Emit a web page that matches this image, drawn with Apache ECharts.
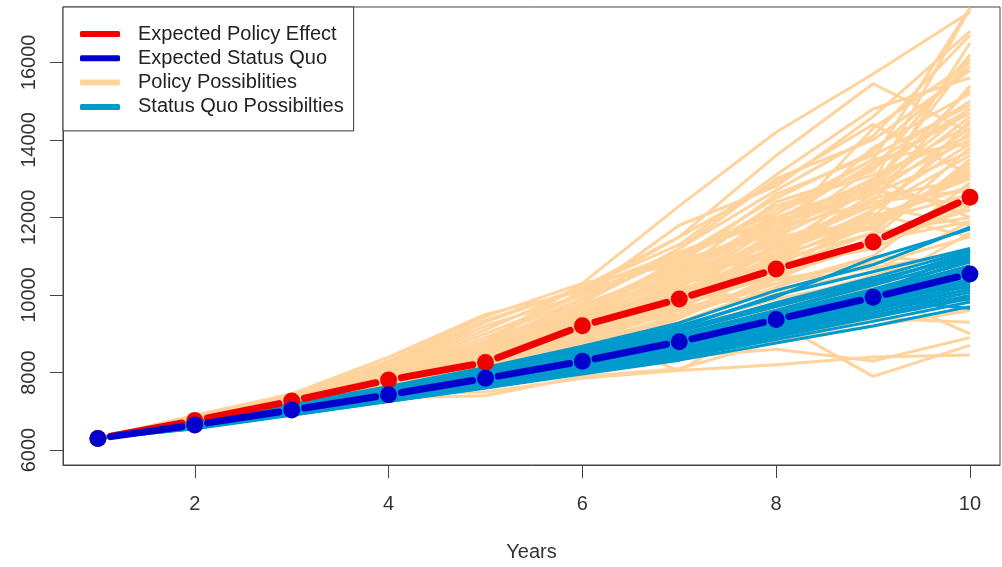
<!DOCTYPE html>
<html>
<head>
<meta charset="utf-8">
<script src="https://cdn.jsdelivr.net/npm/echarts@6/dist/echarts.min.js"></script>
<style>
html,body{margin:0;padding:0;background:#fff;}
#chart{width:1002px;height:567px;}
</style>
</head>
<body>
<div id="chart"></div>
<script>
// ---------------- data ----------------
const years = [1, 2, 3, 4, 5, 6, 7, 8, 9, 10];
const xTicks = [2, 4, 6, 8, 10];
const yTicks = [6000, 8000, 10000, 12000, 14000, 16000];

const expectedPolicy = [6300, 6760, 7265, 7810, 8260, 9210, 9900, 10670, 11370, 12520];
const expectedStatusQuo = [6300, 6650, 7035, 7430, 7850, 8290, 8795, 9370, 9940, 10545];

const policyPossibilities = [
  [6300,6850,7400,8300,9450,10300,12300,14200,15700,17300],
  [6300,6800,7350,8200,9300,10200,11500,13600,15450,14200],
  [6300,6750,7300,8100,9000,10000,11800,12800,14600,16800],
  [6300,6900,7450,8400,9500,10100,10900,12200,13500,17400],
  [6300,6700,7200,7900,8800,9800,11200,13000,14000,15800],
  [6300,6800,7350,8000,8600,9500,10600,12400,13200,16200],
  [6300,6650,7100,7700,8200,9300,10200,11800,12800,14800],
  [6300,6750,7250,7850,8500,9700,10800,11600,13800,15200],
  [6300,6700,7150,7600,8000,9000,9800,11000,12200,13600],
  [6300,6600,7050,7500,7900,8700,9400,10500,11300,12400],
  [6300,6850,7300,8000,8700,9900,11000,12000,12800,14000],
  [6300,6700,7200,7800,8300,9100,10100,10800,11800,13200],
  [6300,6750,7300,7900,8400,9600,10400,11200,12100,11500],
  [6300,6650,7100,7600,8100,8800,9600,10300,11000,12900],
  [6300,6800,7350,7950,8550,9400,10200,11400,11700,13400],
  [6300,6600,7000,7400,7800,8400,8900,9800,10500,11200],
  [6300,6700,7150,7700,8200,8900,9300,10200,11000,10800],
  [6300,6650,7050,7550,7700,8300,8600,9400,9900,10500],
  [6300,6550,6950,7350,7400,7900,8100,8800,9200,9600],
  [6300,6600,7000,7450,7500,7850,8050,8200,8400,8450],
  [6300,6650,7050,7500,7850,8400,9000,9300,7900,8700],
  [6300,6750,7250,7800,8200,9000,8050,9500,10200,11600],
  [6300,6800,7300,7950,8600,9500,10500,11000,12500,13000],
  [6300,6700,7200,7800,8400,9200,10000,11500,11900,12600],
  [6300,6850,7400,8100,8800,10300,10800,11800,13000,14400],
  [6300,6750,7250,7850,8400,9100,9900,10900,11600,12000],
  [6300,6650,7150,7700,8100,8700,9500,10400,10800,11500],
  [6300,6700,7250,7800,8300,9300,10300,10700,11200,12300],
  [6300,6800,7300,7800,8700,9600,10800,12600,13600,14900],
  [6300,6750,7200,7650,8000,8600,9200,9900,10400,9800],
  [6300,6700,7150,7600,8100,8900,9700,10000,10900,10200],
  [6300,6850,7400,8000,8800,10100,11500,12900,14400,13100],
  [6300,6700,7200,7750,8300,9200,10600,11300,12400,15400],
  [6300,6650,7100,7550,8000,8600,9100,9700,10100,9000],
  [6300,6800,7350,7950,8500,9400,10100,11100,12600,16500],
  [6300,6750,7250,7850,8400,9000,9800,10600,11400,11900],
  [6300,6700,7200,7750,8200,9100,9500,10700,11600,13800],
  [6300,6600,7050,7450,7800,8200,8700,9000,9500,10300],
  [6300,6750,7300,7900,8600,9800,11100,12100,13300,14700],
  [6300,6700,7150,7650,8100,8800,9800,11300,12000,12800],
  [6300,6800,7350,8000,8700,9600,10400,12000,12900,17400],
  [6300,6750,7300,7900,8500,9400,10900,11600,14300,16000],
  [6300,6850,7400,8150,9100,10200,11300,13100,14800,15600],
  [6300,6700,7200,7800,8400,9300,10300,11900,12600,14300],
  [6300,6650,7150,7650,8200,9000,9900,11000,13000,12000],
  [6300,6600,7000,7400,7700,8100,8400,8600,8300,8900],
  [6300,6650,7050,7500,7900,8500,9200,8900,9400,9300],
  [6300,6720,7220,7820,8450,9350,10250,11250,12300,13900],
  [6300,6780,7330,7980,8650,9650,10650,11700,12700,14600],
  [6300,6680,7180,7720,8250,9150,9950,10950,11900,13100],
  [6300,6820,7380,8050,8750,9750,10700,11900,13400,15000],
  [6300,6760,7280,7880,8550,9450,10350,11500,12700,12300],
  [6300,6640,7120,7620,8150,8950,9700,10600,11400,12200],
  [6300,6860,7420,8200,9200,10000,11000,12500,13700,15900],
  [6300,6700,7230,7830,8350,9250,10150,10900,12000,14500],
  [6300,6790,7320,7920,8650,9550,10450,11400,12300,11800],
  [6300,6620,7080,7560,8050,8750,9450,10300,10700,11100],
  [6300,6740,7260,7840,8450,9250,10050,11200,12800,16100],
  [6300,6880,7430,8250,9350,10150,11100,11900,12600,13700],
  [6300,6710,7210,7790,8380,9180,9950,11700,12400,12700],
  [6300,6690,7190,7740,8280,9050,10150,10400,11500,13500],
  [6300,6810,7340,7990,8620,9580,10900,12300,13100,14100],
  [6300,6660,7130,7660,8170,8850,9900,10100,10600,11900],
  [6300,6770,7290,7900,8500,9350,10250,11600,12900,15300],
  [6300,6730,7240,7860,8420,9450,10600,11000,11800,13300],
  [6300,6840,7370,8080,8900,9900,11200,12700,14100,16700],
  [6300,6620,7060,7520,7950,8500,9300,9600,10300,10800],
  [6300,6760,7270,7870,8560,9700,10300,11500,13300,14800],
  [6300,6700,7170,7680,8150,8950,9650,10800,11300,12500],
  [6300,6800,7310,7930,8480,9280,10500,12100,13500,13900],
  [6300,6650,7140,7630,8120,8780,9750,10500,12200,14200],
  [6300,6720,7230,7760,8320,9400,10000,11100,12000,13000]
];

const statusQuoPossibilities = [
  [6300,6740,7190,7640,8130,8680,9280,10120,10780,11750],
  [6300,6700,7150,7600,8080,8620,9200,9950,10950,11700],
  [6300,6720,7160,7580,8050,8560,9150,10000,10600,11200],
  [6300,6690,7110,7540,7990,8490,9060,9700,10350,11050],
  [6300,6680,7090,7510,7960,8440,8990,9600,10250,10950],
  [6300,6670,7070,7490,7930,8400,8930,9540,10150,10850],
  [6300,6660,7060,7470,7900,8360,8880,9480,10080,10750],
  [6300,6650,7040,7450,7870,8320,8830,9420,10010,10650],
  [6300,6650,7030,7430,7850,8290,8790,9370,9950,10560],
  [6300,6640,7020,7410,7820,8260,8760,9320,9890,10480],
  [6300,6630,7010,7390,7800,8230,8720,9270,9830,10400],
  [6300,6620,6990,7370,7770,8190,8670,9220,9760,10320],
  [6300,6610,6970,7340,7740,8150,8620,9160,9690,10240],
  [6300,6600,6950,7320,7710,8110,8570,9100,9620,10150],
  [6300,6590,6940,7300,7680,8070,8520,9040,9550,10070],
  [6300,6580,6930,7280,7650,8040,8470,8980,9480,9990],
  [6300,6570,6920,7270,7630,8010,8430,8920,9420,9910],
  [6300,6560,6910,7260,7610,7980,8380,8850,9320,9820],
  [6300,6550,6900,7250,7600,7960,8320,8760,9200,9700],
  [6300,6620,7000,7350,7720,8150,8620,9200,9800,10400],
  [6300,6680,7080,7480,7900,8350,8900,9500,10050,10700],
  [6300,6710,7120,7550,8020,8520,9100,9800,10450,11150],
  [6300,6640,7050,7460,7920,8400,8950,9600,10300,11100],
  [6300,6600,6980,7380,7820,8300,8830,9430,10100,10900],
  [6300,6660,7040,7420,7800,8200,8650,9150,9650,10150],
  [6300,6700,7120,7520,7920,8350,8820,9300,9800,10300],
  [6300,6580,6960,7360,7780,8230,8750,9350,9980,10650],
  [6300,6620,6990,7400,7860,8330,8860,9460,10080,10750],
  [6300,6690,7100,7520,7960,8430,8940,9500,10000,10500],
  [6300,6560,6920,7300,7700,8130,8620,9170,9750,10350],
  [6300,6650,7020,7400,7820,8280,8760,9300,9900,9650],
  [6300,6700,7130,7570,8040,8560,9120,9760,10380,11000],
  [6300,6630,7010,7420,7850,8310,8820,9410,10000,11150],
  [6300,6670,7050,7440,7880,8340,8870,9440,10020,10200],
  [6300,6610,6960,7330,7730,8170,8650,9190,9740,9900],
  [6300,6590,6950,7310,7700,8120,8580,9110,9650,10600]
];

// ---------------- styling ----------------
const RED = '#F00000', BLUE = '#0000CD', PEACH = '#FFD39B', CYAN = '#009ACD';
const FONT = 'Liberation Sans, Arial, sans-serif';
const TXT = '#333';

function possibilitySeries(name, rows, color, width) {
  return rows.map(r => ({
    type: 'line', name: name, z: 2,
    data: years.map((x, i) => [x, r[i]]),
    symbol: 'none', silent: true, animation: false,
    lineStyle: { color: color, width: width },
    itemStyle: { color: color },
    emphasis: { disabled: true },
    clip: true
  }));
}

function expectedSeries(name, vals, color, z) {
  return {
    type: 'custom', name: name, animation: false, silent: true, clip: true, z: z,
    itemStyle: { color: color },
    data: years.map((x, i) => [x, vals[i], i > 0 ? years[i - 1] : x, i > 0 ? vals[i - 1] : vals[i]]),
    encode: { x: 0, y: 1 },
    renderItem: function (params, api) {
      const p = api.coord([api.value(0), api.value(1)]);
      const q = api.coord([api.value(2), api.value(3)]);
      const children = [];
      const dx = p[0] - q[0], dy = p[1] - q[1];
      const len = Math.hypot(dx, dy);
      const gap = 13;
      if (len > 2 * gap) {
        const ux = dx / len, uy = dy / len;
        children.push({
          type: 'line',
          shape: { x1: q[0] + ux * gap, y1: q[1] + uy * gap, x2: p[0] - ux * gap, y2: p[1] - uy * gap },
          style: { stroke: color, lineWidth: 7, lineCap: 'round' }
        });
      }
      children.push({ type: 'circle', shape: { cx: p[0], cy: p[1], r: 8.5 }, style: { fill: color } });
      return { type: 'group', children: children };
    }
  };
}

const series = []
  .concat(possibilitySeries('Policy Possiblities', policyPossibilities, PEACH, 3))
  .concat(possibilitySeries('Status Quo Possibilties', statusQuoPossibilities, CYAN, 3))
  .concat([expectedSeries('Expected Policy Effect', expectedPolicy, RED, 10),
           expectedSeries('Expected Status Quo', expectedStatusQuo, BLUE, 11)]);

const chart = echarts.init(document.getElementById('chart'), null, { renderer: 'canvas' });
chart.setOption({
  animation: false,
  backgroundColor: '#fff',
  textStyle: { fontFamily: FONT },
  grid: { left: 63, right: 2, top: 7, bottom: 100, show: true, borderColor: '#444', borderWidth: 1, containLabel: false },
  xAxis: {
    type: 'value', min: 0.64, max: 10.31,
    axisLine: { show: true, lineStyle: { color: '#444' } },
    axisTick: { show: true, length: 13, customValues: xTicks, lineStyle: { color: '#444' } },
    axisLabel: { customValues: xTicks, fontSize: 20, color: TXT, margin: 29, fontFamily: FONT },
    splitLine: { show: false },
    name: 'Years', nameLocation: 'middle', nameGap: 77,
    nameTextStyle: { fontSize: 20, color: TXT, fontFamily: FONT }
  },
  yAxis: {
    type: 'value', min: 5615, max: 17430,
    axisLine: { show: true, lineStyle: { color: '#444' } },
    axisTick: { show: true, length: 13, customValues: yTicks, lineStyle: { color: '#444' } },
    axisLabel: { customValues: yTicks, fontSize: 20, color: TXT, rotate: 90, margin: 24, fontFamily: FONT,
                 formatter: v => String(v) },
    splitLine: { show: false }
  },
  legend: {
    left: 63, top: 7, orient: 'vertical', selectedMode: false,
    backgroundColor: '#fff', borderColor: '#333', borderWidth: 1,
    padding: [17, 10, 14, 17],
    itemWidth: 40, itemHeight: 6, itemGap: 4.3, icon: 'roundRect',
    textStyle: { fontSize: 20, color: '#222', fontFamily: FONT, lineHeight: 20, padding: [0, 0, 0, 13] },
    data: [
      { name: 'Expected Policy Effect', itemStyle: { color: RED } },
      { name: 'Expected Status Quo', itemStyle: { color: BLUE } },
      { name: 'Policy Possiblities', itemStyle: { color: PEACH } },
      { name: 'Status Quo Possibilties', itemStyle: { color: CYAN } }
    ]
  },
  series: series
});
</script>
</body>
</html>
